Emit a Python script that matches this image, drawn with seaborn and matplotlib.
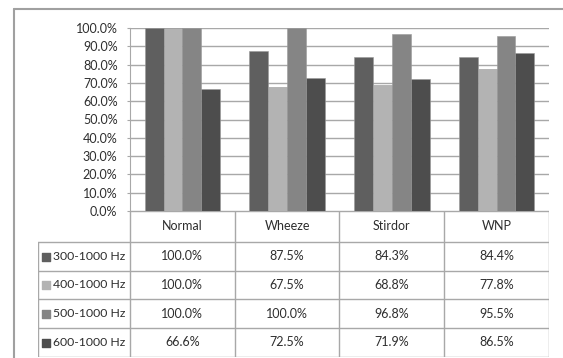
import matplotlib
matplotlib.use("Agg")
import matplotlib.pyplot as plt
import seaborn as sns
import pandas as pd
from matplotlib.ticker import FuncFormatter

# Data
categories = ["Normal", "Wheeze", "Stirdor", "WNP"]
bands = ["300-1000 Hz", "400-1000 Hz", "500-1000 Hz", "600-1000 Hz"]
acc_300 = [100.0, 87.5, 84.3, 84.4]
acc_400 = [100.0, 67.5, 68.8, 77.8]
acc_500 = [100.0, 100.0, 96.8, 95.5]
acc_600 = [66.6, 72.5, 71.9, 86.5]
colors = ["#5f5f5f", "#b3b3b3", "#858585", "#4d4d4d"]

series = [acc_300, acc_400, acc_500, acc_600]
df = pd.DataFrame([
    {"category": c, "band": b, "value": v / 100.0}
    for b, vals in zip(bands, series)
    for c, v in zip(categories, vals)
])

sns.set_style("white")
plt.rcParams["font.family"] = ["Lato", "DejaVu Sans"]
text_col = "#2e2e2e"
line_col = "#a8a8a8"

W, H = 563, 358
fig = plt.figure(figsize=(W / 100, H / 100), dpi=100)

# pixel layout helpers
x0, x1 = 130, 549
y_top, y_bot = 28, 211
ax = fig.add_axes([x0 / W, 1 - y_bot / H, (x1 - x0) / W, (y_bot - y_top) / H])

sns.barplot(data=df, x="category", y="value", hue="band", hue_order=bands,
            palette=colors, width=0.72, ax=ax, legend=False,
            edgecolor="#9a9a9a", linewidth=0.4, zorder=3)
ax.set_xlim(-0.5, 3.5)
ax.set_ylim(0, 1.0)
ax.set_yticks([i / 10 for i in range(11)])
ax.yaxis.set_major_formatter(FuncFormatter(lambda v, p: f"{v * 100:.1f}%"))
ax.grid(axis="y", color=line_col, linewidth=1.0, zorder=0)
ax.set_xticks([])
ax.set_xlabel("")
ax.set_ylabel("")
for side in ["top", "right", "bottom"]:
    ax.spines[side].set_visible(False)
ax.spines["left"].set_color(line_col)
ax.tick_params(axis="y", length=2, color=line_col, labelsize=9,
               labelcolor=text_col, pad=7, left=True)

# data table below the plot
lbl_left = 38
grp_w = (x1 - x0) / 4
tax = fig.add_axes([lbl_left / W, 1 - 357 / H, (x1 - lbl_left) / W, (357 - y_bot) / H])
xl = -0.5 - (x0 - lbl_left) / grp_w
tax.set_xlim(xl, 3.5)
rows_y = [0, 31, 60, 88, 117, 146]
tax.set_ylim(146, 0)
tax.axis("off")

# horizontal lines
tax.plot([-0.5, 3.5], [0, 0], color=line_col, lw=1)
for yy in rows_y[1:]:
    tax.plot([xl, 3.5], [yy, yy], color=line_col, lw=1)
# vertical lines
for xx in [-0.5, 0.5, 1.5, 2.5, 3.5]:
    tax.plot([xx, xx], [0, 146], color=line_col, lw=1)
tax.plot([xl, xl], [rows_y[1], 146], color=line_col, lw=1)

for i, c in enumerate(categories):
    tax.text(i, (rows_y[0] + rows_y[1]) / 2, c, ha="center", va="center",
             fontsize=9, color=text_col)
for r, (b, vals, col) in enumerate(zip(bands, series, colors)):
    yc = (rows_y[r + 1] + rows_y[r + 2]) / 2
    tax.scatter([xl + 0.08], [yc], marker="s", s=26, color=col)
    tax.text(xl + 0.14, yc, b, ha="left", va="center", fontsize=8.8, color=text_col)
    for i, v in enumerate(vals):
        tax.text(i, yc, f"{v:.1f}%", ha="center", va="center",
                 fontsize=9, color=text_col)

# outer frame (left and top edges visible)
fig.add_artist(plt.Line2D([14 / W, 14 / W], [0, 1 - 9 / H], color="#a0a0a0", lw=1.5))
fig.add_artist(plt.Line2D([14 / W, 1], [1 - 9 / H, 1 - 9 / H], color="#a0a0a0", lw=1.5))

fig.savefig("out.png", dpi=100)
